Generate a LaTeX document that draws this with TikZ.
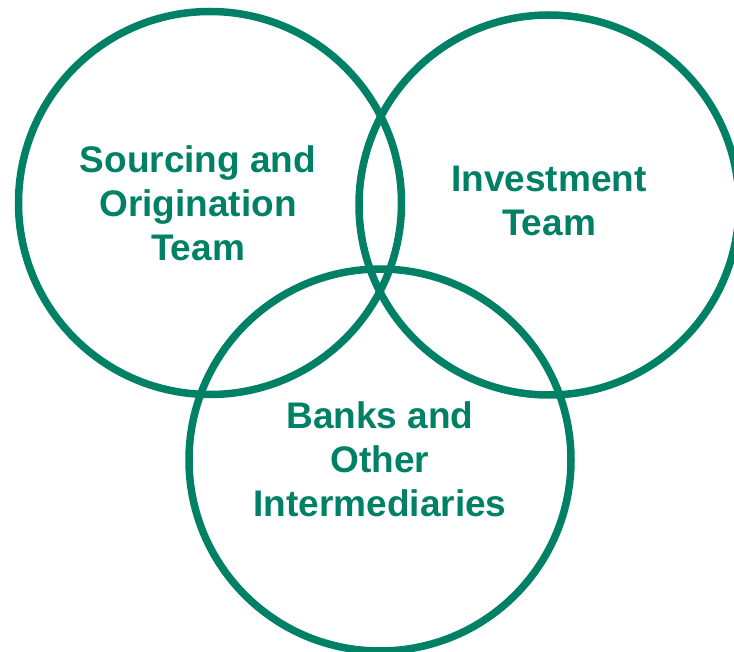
\documentclass[tikz,border=0pt]{standalone}
\usepackage{fontspec}
\setmainfont{Liberation Sans}
\definecolor{dealgreen}{RGB}{0,128,100}
\tikzset{
  ring/.style={circle,draw=dealgreen,line width=7.5pt,minimum size=#1,inner sep=0pt},
  team/.style={text=dealgreen,font=\fontsize{37}{44}\selectfont\bfseries,align=center,inner sep=0pt}
}

\begin{document}
\begin{tikzpicture}[x=1pt,y=-1pt]
    \useasboundingbox (0,0) rectangle (734,652);
    \node[ring=383pt] (src) at (210,203) {};
    \node[ring=380pt] (inv) at (549,205) {};
    \node[ring=382pt] (bnk) at (380,460) {};
    \node[team,xshift=-12pt] (srct) at (src.center) {Sourcing and\\Origination\\Team};
    \node[team,yshift=4pt] (invt) at (inv.center) {Investment\\Team};
    \node[team,yshift=1pt] (bnkt) at (bnk.center) {Banks and\\Other\\Intermediaries};
\end{tikzpicture}
\end{document}
